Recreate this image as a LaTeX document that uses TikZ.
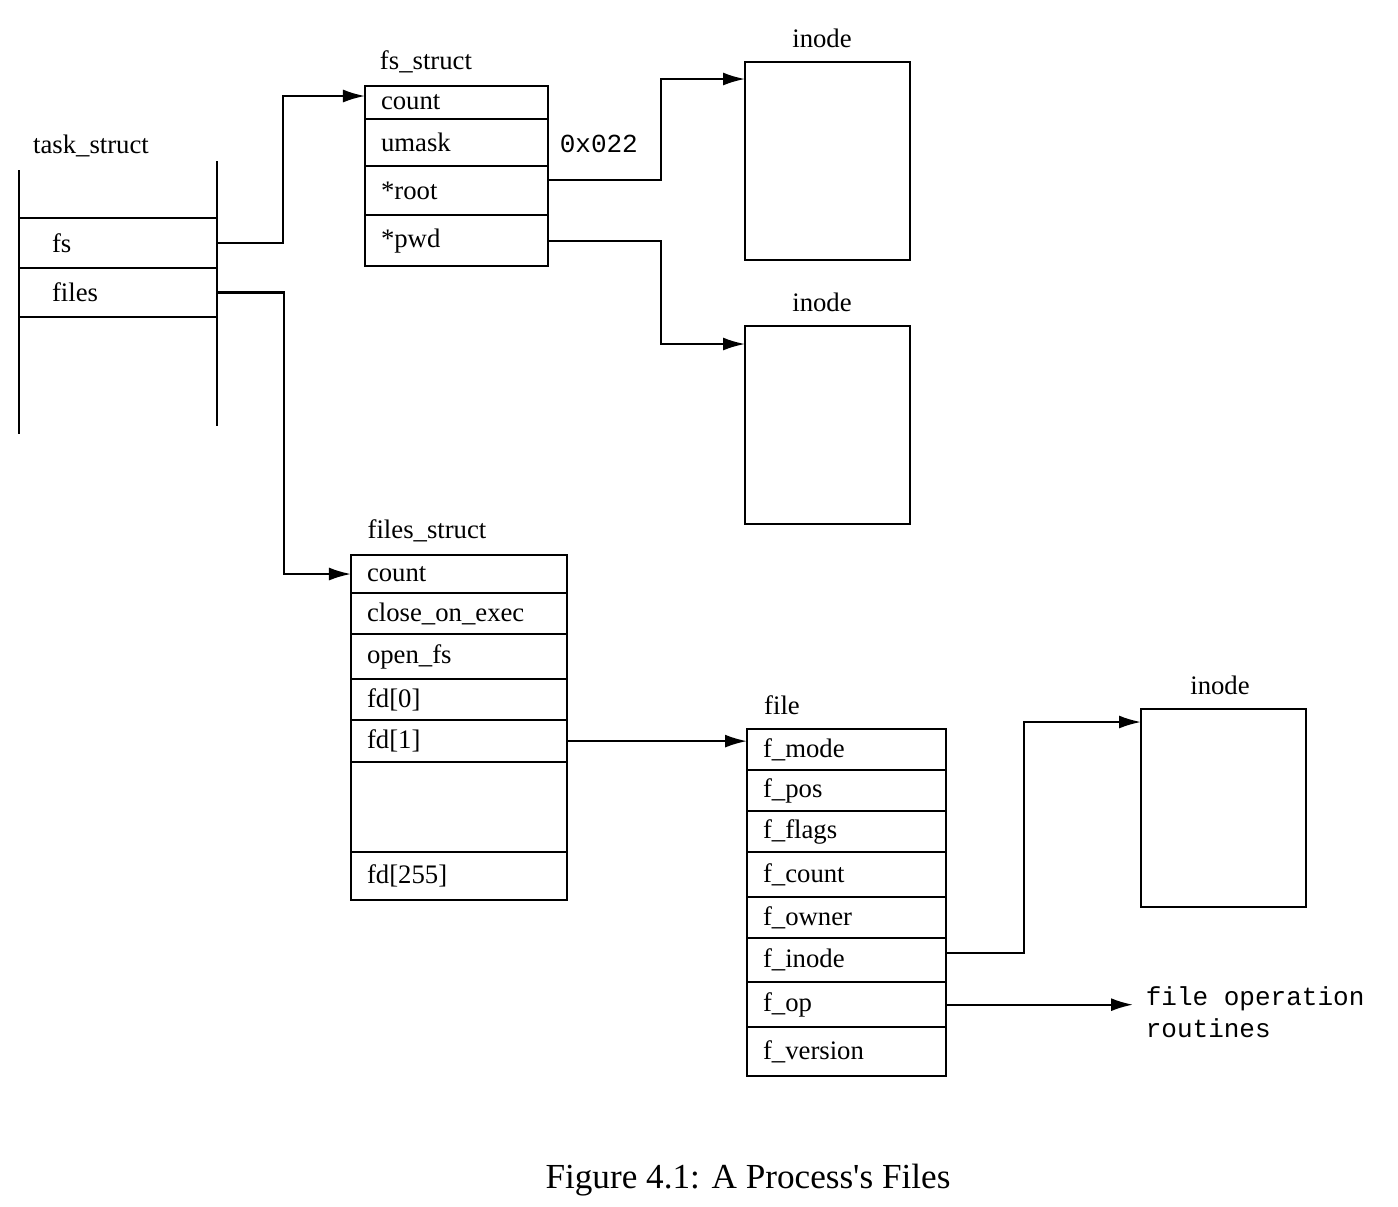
\documentclass[tikz,border=0pt]{standalone}
\usepackage{fontspec}
\setmainfont{Liberation Serif}
\setmonofont{Liberation Mono}
\usetikzlibrary{arrows.meta,positioning}

\begin{document}
\begin{tikzpicture}[x=0.01cm, y=-0.01cm,
    line width=0.6pt,
    every node/.style={font=\fontsize{7.6}{9}\selectfont},
    mono/.style={font=\ttfamily\fontsize{7.4}{9.1}\selectfont},
    field/.style={draw, anchor=north west, outer sep=0pt,
      inner xsep=1.6mm, inner ysep=0pt, align=left
    },
    taskrow/.style={field, inner xsep=3.3mm, text width=13.2mm},
    fsrow/.style={field, text width=15.1mm},
    filesrow/.style={field, text width=18.4mm},
    filerow/.style={field, text width=16.7mm},
    inodebox/.style={draw, anchor=north west, outer sep=0pt,
      minimum width=16.5mm, minimum height=19.8mm
    },
    ptr/.style={-{Latex[length=2.2mm,width=1.3mm]}},
    ]
  \useasboundingbox (0,0) rectangle (1398,1206);

  % task_struct
  \node (taskLbl) at (91,146) {task\_struct};
  \node[taskrow, minimum height=5mm] (tFs) at (19,218) {fs};
  \node[taskrow, minimum height=4.9mm] (tFiles) at (tFs.south west) {files};
  \draw (19,170) -- (19,434);
  \draw (217,161) -- (217,426);

  % fs_struct
  \node (fsLbl) at (426,62) {fs\_struct};
  \node[fsrow, minimum height=3.3mm] (fsCount) at (365,86) {count};
  \node[fsrow, minimum height=4.7mm] (fsUmask) at (fsCount.south west) {umask};
  \node[fsrow, minimum height=4.9mm] (fsRoot) at (fsUmask.south west) {*root};
  \node[fsrow, minimum height=5.1mm] (fsPwd) at (fsRoot.south west) {*pwd};
  \node[mono, anchor=west] (umaskVal) at (547,144) {0x022};

  % inodes of root and pwd
  \node (inodeRootLbl) at (822,38) {inode};
  \node[inodebox] (inodeRoot) at (745,62) {};
  \node (inodePwdLbl) at (822,302) {inode};
  \node[inodebox] (inodePwd) at (745,326) {};

  % files_struct
  \node (filesLbl) at (427,531) {files\_struct};
  \node[filesrow, minimum height=3.8mm] (filesCount) at (351,555) {count};
  \node[filesrow, minimum height=4.1mm] (closeExec) at (filesCount.south west) {close\_on\_exec};
  \node[filesrow, minimum height=4.5mm] (openFs) at (closeExec.south west) {open\_fs};
  \node[filesrow, minimum height=4.1mm] (fdZero) at (openFs.south west) {fd[0]};
  \node[filesrow, minimum height=4.2mm] (fdOne) at (fdZero.south west) {fd[1]};
  \node[filesrow, minimum height=9mm] (fdGap) at (fdOne.south west) {};
  \node[filesrow, minimum height=4.8mm] (fdLast) at (fdGap.south west) {fd[255]};

  % file
  \node (fileLbl) at (782,705) {file};
  \node[filerow, minimum height=4.1mm] (fMode) at (747,729) {f\_mode};
  \node[filerow, minimum height=4.1mm] (fPos) at (fMode.south west) {f\_pos};
  \node[filerow, minimum height=4.1mm] (fFlags) at (fPos.south west) {f\_flags};
  \node[filerow, minimum height=4.5mm] (fCount) at (fFlags.south west) {f\_count};
  \node[filerow, minimum height=4.1mm] (fOwner) at (fCount.south west) {f\_owner};
  \node[filerow, minimum height=4.4mm] (fInode) at (fOwner.south west) {f\_inode};
  \node[filerow, minimum height=4.5mm] (fOp) at (fInode.south west) {f\_op};
  \node[filerow, minimum height=4.9mm] (fVersion) at (fOp.south west) {f\_version};

  % inode of file, operations
  \node (inodeFileLbl) at (1220,685) {inode};
  \node[inodebox] (inodeFile) at (1141,709) {};
  \node[mono, anchor=west, align=left] (fileOps) at (1133,1012) {file operation\\routines};

  % pointers
  \draw[ptr] (tFs.east) -- ++(66,0) |- ([yshift=.065cm]fsCount.west);
  \draw[ptr] (tFiles.east) -- ++(67,0) |- (filesCount.west);
  \draw[ptr] ([yshift=.11cm]fsRoot.east) -- ++(113,0) |- ([yshift=-.17cm]inodeRoot.north west);
  \draw[ptr] (fsPwd.east) -- ++(113,0) |- ([yshift=-.18cm]inodePwd.north west);
  \draw[ptr] (fdOne.east) -- (fdOne.east -| fMode.west);
  \draw[ptr] ([yshift=.07cm]fInode.east) -- ++(78,0) |- ([yshift=-.13cm]inodeFile.north west);
  \draw[ptr] (fOp.east) -- (fOp.east -| fileOps.west);

  \node[font=\fontsize{10}{12}\selectfont] (caption) at (748,1180)
    {Figure 4.1: A Process\textquotesingle s Files};
\end{tikzpicture}
\end{document}
